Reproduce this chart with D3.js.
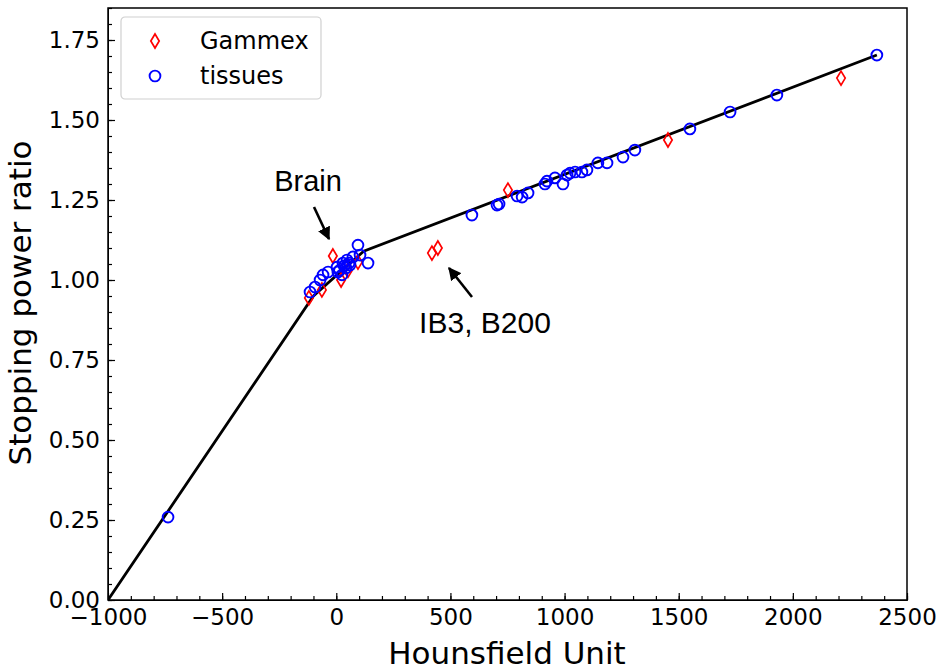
<!DOCTYPE html>
<html>
<head>
<meta charset="utf-8">
<script src="https://cdn.jsdelivr.net/npm/d3@7"></script>
<style>
  body { margin: 0; background: #fff; }
  text { font-family: "DejaVu Sans", sans-serif; }
</style>
</head>
<body>
<div id="chart"></div>
<script>
// Gammex phantom inserts (HU, SPR)
const gammexHU  = [-120, -63, -15, 21, 51, 95, 419, 445, 752, 1453, 2211];
const gammexSPR = [0.944, 0.969, 1.075, 1.0, 1.03, 1.056, 1.084, 1.10, 1.281, 1.4375, 1.631];

// tissues (HU, SPR)
const tissueHU  = [-737, -115, -93, -71, -58, -36, 3, 7, 14, 25, 29, 34, 42, 47, 56, 60, 73, 95, 104, 139,
                   594, 704, 713, 792, 814, 840, 914, 923, 958, 993, 1011, 1024, 1046, 1076, 1098, 1146, 1186,
                   1256, 1308, 1549, 1725, 1930, 2368];
const tissueSPR = [0.259, 0.9625, 0.978, 1.0, 1.016, 1.025, 1.04, 1.025, 1.03, 1.016, 1.053, 1.044, 1.0375, 1.0625, 1.053, 1.047, 1.072, 1.109, 1.078, 1.053,
                   1.203, 1.234, 1.2375, 1.2625, 1.259, 1.272, 1.30, 1.309, 1.319, 1.30, 1.328, 1.334, 1.3375, 1.3375, 1.344, 1.366, 1.366,
                   1.384, 1.406, 1.472, 1.525, 1.578, 1.703];

// calibration curve knots
const curveHU  = [-1000, -100, 120, 2368];
const curveSPR = [0, 0.95, 1.09, 1.703];

const xTicks = [-1000, -500, 0, 500, 1000, 1500, 2000, 2500];
const yTicks = [0, 0.25, 0.5, 0.75, 1.0, 1.25, 1.5, 1.75];

const margin = { top: 8, right: 37, bottom: 71, left: 108 },
  width = 944 - margin.left - margin.right,
  height = 671 - margin.top - margin.bottom;

const svg = d3.select("#chart")
  .append("svg")
  .attr("width", 944)
  .attr("height", 671);

const g = svg.append("g")
  .attr("transform", `translate(${margin.left},${margin.top})`);

const x = d3.scaleLinear().domain([-1000, 2500]).range([0, width]);
const y = d3.scaleLinear().domain([0, 1.85]).range([height, 0]);

const fmtX = d => d < 0 ? "\u2212" + Math.abs(d) : String(d);

// minor ticks
const xAxisMinor = d3.axisBottom(x).tickValues(d3.range(-1000, 2501, 100)).tickSize(-4).tickFormat("");
const yAxisMinor = d3.axisLeft(y).tickValues(d3.range(0, 1.851, 0.05)).tickSize(-4).tickFormat("");
g.append("g").attr("transform", `translate(0,${height})`).call(xAxisMinor);
g.append("g").call(yAxisMinor);

// major ticks
const xAxis = g.append("g")
  .attr("transform", `translate(0,${height})`)
  .call(d3.axisBottom(x).tickValues(xTicks).tickSize(-7).tickPadding(9).tickFormat(fmtX));
const yAxis = g.append("g")
  .call(d3.axisLeft(y).tickValues(yTicks).tickSize(-7).tickPadding(8).tickFormat(d3.format(".2f")));

[xAxis, yAxis].forEach(a => {
  a.select(".domain").remove();
  a.selectAll("text").attr("font-size", 23).attr("fill", "#000")
    .style("font-family", '"DejaVu Sans", sans-serif');
});
g.selectAll(".tick line").attr("stroke", "#000").attr("stroke-width", 1.2);

// frame
g.append("rect")
  .attr("width", width).attr("height", height)
  .attr("fill", "none").attr("stroke", "#000").attr("stroke-width", 1.5);

const plot = g.append("g");
plot.append("defs").append("clipPath").attr("id", "clip")
  .append("rect").attr("width", width).attr("height", height);

// curve
const line = d3.line().x(d => x(d[0])).y(d => y(d[1]));
plot.append("path")
  .datum(d3.zip(curveHU, curveSPR))
  .attr("clip-path", "url(#clip)")
  .attr("d", line)
  .attr("fill", "none")
  .attr("stroke", "#000")
  .attr("stroke-width", 2.8);

// gammex diamonds
const diamond = "M0,-7L4.2,0L0,7L-4.2,0Z";
plot.selectAll(".gammex")
  .data(d3.zip(gammexHU, gammexSPR))
  .join("path")
  .attr("class", "gammex")
  .attr("d", diamond)
  .attr("transform", d => `translate(${x(d[0])},${y(d[1])})`)
  .attr("fill", "none")
  .attr("stroke", "#ff0000")
  .attr("stroke-width", 1.7);

// tissue circles
plot.selectAll(".tissue")
  .data(d3.zip(tissueHU, tissueSPR))
  .join("circle")
  .attr("class", "tissue")
  .attr("cx", d => x(d[0]))
  .attr("cy", d => y(d[1]))
  .attr("r", 5.4)
  .attr("fill", "none")
  .attr("stroke", "#0000ff")
  .attr("stroke-width", 1.9);

// annotations
svg.append("defs").append("marker")
  .attr("id", "arrow")
  .attr("viewBox", "0 0 10 10")
  .attr("refX", 9).attr("refY", 5)
  .attr("markerWidth", 5).attr("markerHeight", 5)
  .attr("markerUnits", "strokeWidth")
  .attr("orient", "auto")
  .append("path").attr("d", "M0,0L10,5L0,10Z").attr("fill", "#000");

svg.append("text").attr("x", 308).attr("y", 191).attr("text-anchor", "middle")
  .attr("font-size", 29).style("font-family", '"Liberation Sans", Arial, sans-serif')
  .text("Brain");
svg.append("line")
  .attr("x1", 314).attr("y1", 207).attr("x2", 329).attr("y2", 239)
  .attr("stroke", "#000").attr("stroke-width", 2.6).attr("marker-end", "url(#arrow)");

svg.append("text").attr("x", 485).attr("y", 333).attr("text-anchor", "middle")
  .attr("font-size", 30).style("font-family", '"Liberation Sans", Arial, sans-serif')
  .text("IB3, B200");
svg.append("line")
  .attr("x1", 472).attr("y1", 297).attr("x2", 449).attr("y2", 268)
  .attr("stroke", "#000").attr("stroke-width", 2.6).attr("marker-end", "url(#arrow)");

// axis labels
svg.append("text")
  .attr("x", 507).attr("y", 664)
  .attr("text-anchor", "middle").attr("font-size", 31)
  .text("Hounsfield Unit");
svg.append("text")
  .attr("transform", `translate(31,303) rotate(-90)`)
  .attr("text-anchor", "middle").attr("font-size", 31)
  .text("Stopping power ratio");

// legend
const legend = svg.append("g").attr("transform", "translate(121,17)");
legend.append("rect")
  .attr("width", 200).attr("height", 82).attr("rx", 4)
  .attr("fill", "#fff").attr("fill-opacity", 0.8)
  .attr("stroke", "#d0d0d0").attr("stroke-width", 1.2);
legend.append("path").attr("d", diamond)
  .attr("transform", "translate(34,24)")
  .attr("fill", "none").attr("stroke", "#ff0000").attr("stroke-width", 1.7);
legend.append("circle").attr("cx", 34).attr("cy", 59).attr("r", 5.4)
  .attr("fill", "none").attr("stroke", "#0000ff").attr("stroke-width", 1.9);
legend.append("text").attr("x", 79).attr("y", 32).attr("font-size", 24).text("Gammex");
legend.append("text").attr("x", 79).attr("y", 67).attr("font-size", 24).text("tissues");
</script>
</body>
</html>
